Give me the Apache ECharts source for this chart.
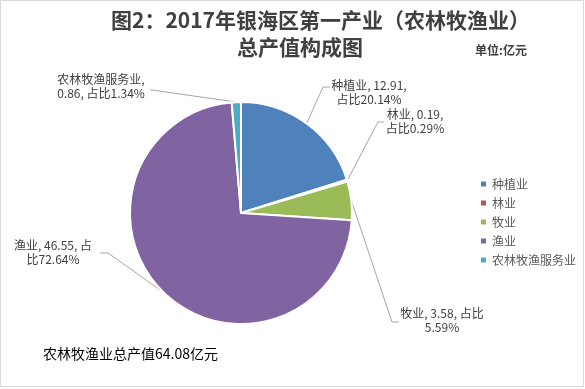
<!DOCTYPE html>
<html><head><meta charset="utf-8">
<script src="https://cdn.jsdelivr.net/npm/echarts@6/dist/echarts.min.js"></script>
<style>html,body{margin:0;padding:0;background:#fff}#c{width:585px;height:389px}</style>
</head><body><div id="c"></div>
<script>
// ---- data ----
var categories = ['种植业', '林业', '牧业', '渔业', '农林牧渔服务业'];
var values = [12.91, 0.19, 3.58, 46.55, 0.86];
var valueLabels = ['12.91', '0.19', '3.58', '46.55', '0.86'];
var percents = ['20.14', '0.29', '5.59', '72.64', '1.34'];
var totalText = '农林牧渔业总产值64.08亿元';

// ---- layout / style ----
var colors = ['#4F81BD', '#C0504D', '#9BBB59', '#8064A2', '#4BACC6'];
// where each label's text wraps (token index after which a line break occurs)
var breakAfter = [2, 2, 4, 3, 1];
var labelLayouts = [
  {x: 369, y: 92, bend: [323, 87], end: [330, 87]},
  {x: 415, y: 121, bend: [378, 122], end: [384, 122]},
  {x: 442, y: 320, bend: [392, 322], end: [399, 322]},
  {x: 53, y: 252, bend: [108, 253], end: [100, 253]},
  {x: 101, y: 86, bend: [152, 90], end: [150, 90]}
];

function labelText(i) {
  var tokens = [categories[i] + ',', ' ' + valueLabels[i] + ',', ' 占', '比', percents[i] + '%'];
  var s = '';
  for (var k = 0; k < tokens.length; k++) {
    var t = tokens[k];
    if (k > 0 && breakAfter[i] === k) { s += '\n'; t = t.replace(/^ /, ''); }
    s += t;
  }
  return s;
}

var chart = echarts.init(document.getElementById('c'), null, {renderer: 'canvas'});
var fontFam = '"Noto Sans CJK SC", "Noto Sans", sans-serif';
var option = {
  animation: false,
  backgroundColor: '#ffffff',
  color: colors,
  title: [
    {text: '图2：2017年银海区第一产业（农林牧渔业）', left: 106, top: 5,
     textStyle: {fontFamily: fontFam, fontSize: 21, fontWeight: 'bold', color: '#404040'}},
    {text: '总产值构成图', left: 232, top: 32,
     textStyle: {fontFamily: fontFam, fontSize: 21, fontWeight: 'bold', color: '#404040'}},
    {text: '单位:亿元', left: 470, top: 39,
     textStyle: {fontFamily: fontFam, fontSize: 12, fontWeight: 'bold', color: '#404040'}},
    {text: totalText, left: 38, top: 342,
     textStyle: {fontFamily: fontFam, fontSize: 14, fontWeight: 'normal', color: '#000000'}}
  ],
  legend: {
    orient: 'vertical', left: 474, top: 173,
    itemWidth: 7, itemHeight: 7, itemGap: 7, icon: 'rect',
    textStyle: {fontFamily: fontFam, fontSize: 12, color: '#595959'},
    data: categories
  },
  graphic: [{
    type: 'rect', silent: true, z: 100,
    shape: {x: 0.5, y: 0.5, width: 583, height: 386},
    style: {fill: 'none', stroke: '#d9d9d9', lineWidth: 1}
  }],
  series: [{
    type: 'pie',
    center: [241, 213], radius: 111,
    startAngle: 90, clockwise: true,
    itemStyle: {borderColor: '#ffffff', borderWidth: 2},
    label: {
      show: true, fontFamily: fontFam, fontSize: 12, color: '#404040', lineHeight: 14,
      align: 'center',
      formatter: function (p) { return labelText(p.dataIndex); }
    },
    labelLine: {show: true, lineStyle: {color: '#a6a6a6', width: 1}},
    labelLayout: function (p) {
      var L = labelLayouts[p.dataIndex];
      var pts = p.labelLinePoints;
      return {
        x: L.x, y: L.y, align: 'center', verticalAlign: 'middle',
        labelLinePoints: [pts[0], L.bend, L.end]
      };
    },
    data: categories.map(function (c, i) { return {name: c, value: values[i]}; })
  }]
};
chart.setOption(option);
</script></body></html>
